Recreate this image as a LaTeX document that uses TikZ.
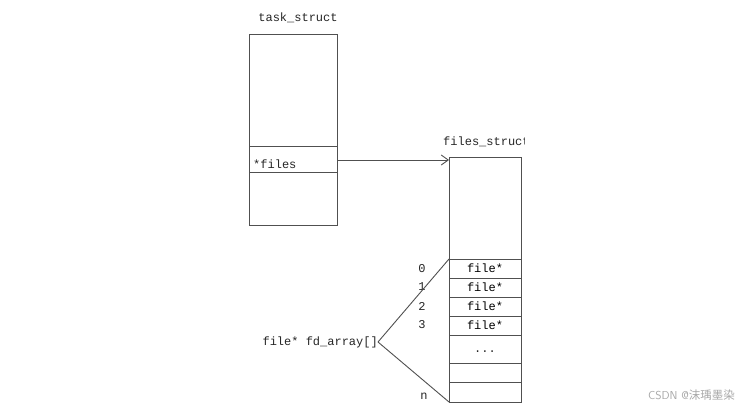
\documentclass[tikz,border=0pt]{standalone}
\usepackage{fontspec}
\setmonofont{Liberation Mono}
\newfontfamily\cjkfont{Noto Sans CJK SC}
\usetikzlibrary{arrows.meta}
\definecolor{linec}{HTML}{505050}
\definecolor{wmark}{HTML}{A8A8A8}
\begin{document}
\begin{tikzpicture}[x=1pt,y=-1pt,
  box/.style={draw=linec, line width=1pt, inner sep=0pt, outer sep=0pt},
  cell/.style={box, minimum width=72pt, font=\ttfamily\fontsize{12}{12}\selectfont},
  lbl/.style={inner sep=0pt, font=\ttfamily\fontsize{12}{12}\selectfont, text=black!85},
  conn/.style={draw=linec, line width=0.9pt}]
\fill[white] (0,0) rectangle (743,408);
\useasboundingbox (0,0) rectangle (743,408);
% task_struct
\node[lbl] (tasklbl) at (298,18) {task\_struct};
\node[box, minimum width=88pt, minimum height=191pt] (task) at (293,129.5) {};
\node[box, minimum width=88pt, minimum height=26pt, anchor=west] (filesrow) at (249,159) {};
\node[lbl, anchor=west] (filestxt) at (253,164) {*files};
% files_struct
\begin{scope}
\clip (430,125) rectangle (524,155);
\node[lbl, anchor=west] (fslbl) at (443,142) {files\_struct};
\end{scope}
\node[box, minimum width=72pt, minimum height=245pt] (fs) at (485,279.5) {};
\node[cell, minimum height=19pt] (f0) at (485,268.5) {file*};
\node[cell, minimum height=19pt] (f1) at (485,287.5) {file*};
\node[cell, minimum height=19pt] (f2) at (485,306.5) {file*};
\node[cell, minimum height=19pt] (f3) at (485,325.5) {file*};
\node[cell, minimum height=28pt] (fdots) at (485,349) {};
\node[lbl] (dots) at (485,352) {...};
\node[cell, minimum height=19pt] (f5) at (485,372.5) {};
\node[cell, minimum height=20pt] (fn) at (485,392) {};
% indices
\node[lbl] (i0) at (422,269) {0};
\node[lbl] (i1) at (422,287) {1};
\node[lbl] (i2) at (422,306) {2};
\node[lbl] (i3) at (422,325) {3};
\node[lbl] (in) at (424,396) {n};
% fd_array
\node[lbl, anchor=east] (fd) at (378,342) {file* fd\_array[]};
\draw[conn] (fd.east) -- (f0.north west);
\draw[conn] (fd.east) -- (fn.south west);
% arrow
\draw[conn, -{Straight Barb[length=7pt,width=10pt]}] (filesrow.east |- 0,160) -- (449,160);
% watermark
\node[inner sep=0pt, anchor=east, text=wmark, font=\fontsize{11.5}{11.5}\selectfont] (wm) at (735,395) {\sffamily CSDN @\cjkfont 沫瑀墨染};
\end{tikzpicture}
\end{document}
